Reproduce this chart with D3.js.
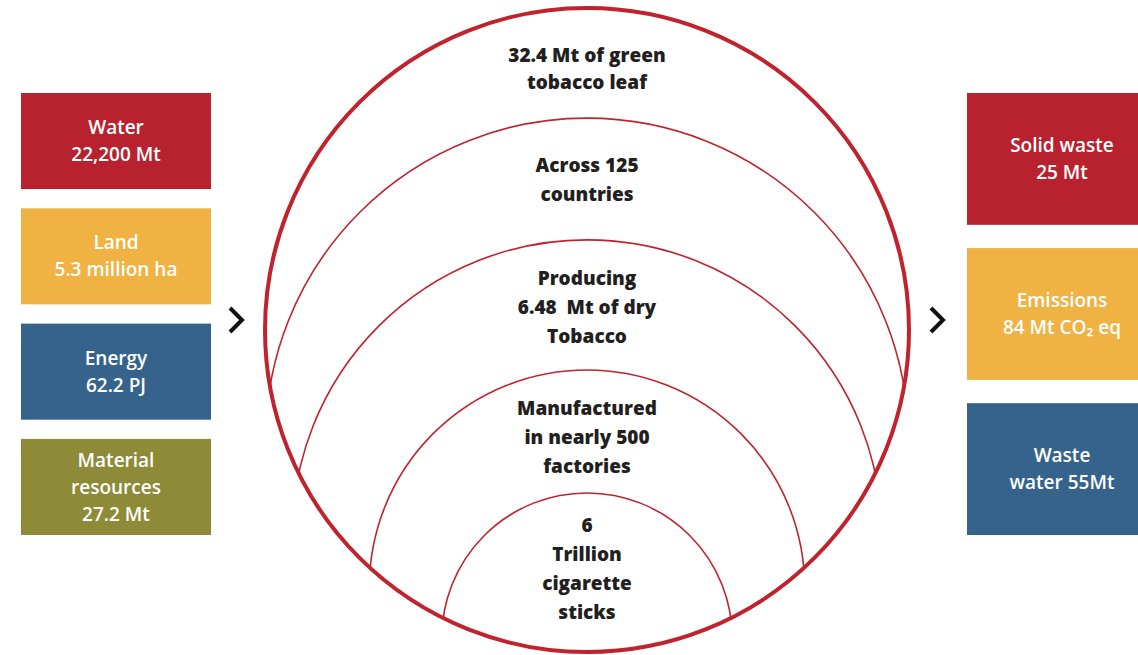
<!DOCTYPE html>
<html>
<head>
  <meta charset="utf-8">
  <title>Tobacco life cycle</title>
  <script src="https://d3js.org/d3.v7.min.js"></script>
  <style>
    body { margin: 0; background: #fff; }
    svg { display: block; }
  </style>
</head>
<body>
<svg width="1138" height="655"></svg>
<script>

  // inputs (left), outputs (right)
  const inputLabels = [["Water", "22,200 Mt"], ["Land", "5.3 million ha"], ["Energy", "62.2 PJ"], ["Material", "resources", "27.2 Mt"]];
  const inputColors = ["#b8222f", "#f0b243", "#35638c", "#8d8b37"];
  const outputLabels = [["Solid waste", "25 Mt"], ["Emissions", "84 Mt CO\u2082 eq"], ["Waste", "water 55Mt"]];
  const outputColors = ["#b8222f", "#f0b243", "#35638c"];

  // stages inside the circle, top to bottom
  const stageLabels = [
    ["32.4 Mt of green", "tobacco leaf"],
    ["Across 125", "countries"],
    ["Producing", "6.48  Mt of dry", "Tobacco"],
    ["Manufactured", "in nearly 500", "factories"],
    ["6", "Trillion", "cigarette", "sticks"]
  ];
  // top of each inner arc (share of the diameter) and its radius (share of the big radius)
  const arcTops = [0.171, 0.360, 0.562, 0.753];
  const arcRadii = [0.998, 0.915, 0.676, 0.451];

  let svg = d3.select("svg"),
      width = +svg.attr("width"),
      height = +svg.attr("height"),
      g = svg.append("g");

  let cx = 587, cy = 330, R = 322;
  let red = "#c1232e";

  let yScale = d3.scaleLinear().domain([0, 1]).range([cy - R, cy + R]);

  let leftBand = d3.scaleBand().domain(d3.range(inputLabels.length)).range([93, 535]).paddingInner(0.167);
  let rightBand = d3.scaleBand().domain(d3.range(outputLabels.length)).range([93, 535]).paddingInner(0.15);

  function drawBoxes(labels, colors, band, x0, w) {
    let box = g.selectAll(null).data(labels).enter().append("g");
    box.append("rect")
        .attr("x", x0)
        .attr("y", (d, i) => band(i))
        .attr("width", w)
        .attr("height", band.bandwidth())
        .attr("fill", (d, i) => colors[i]);
    box.each(function (d, i) {
      let mid = band(i) + band.bandwidth() / 2;
      let lh = 27;
      let t = d3.select(this).append("text")
          .attr("text-anchor", "middle")
          .attr("fill", "#fff")
          .style("font", "600 19px 'Open Sans'");
      d.forEach((line, j) => {
        t.append("tspan")
            .attr("x", x0 + w / 2)
            .attr("y", mid + (j - (d.length - 1) / 2) * lh)
            .attr("dy", "0.35em")
            .text(line);
      });
    });
  }

  drawBoxes(inputLabels, inputColors, leftBand, 21, 190);
  drawBoxes(outputLabels, outputColors, rightBand, 967, 190);

  // chevrons
  let chevron = d3.line();
  [[230, 320], [931, 320]].forEach(p => {
    g.append("path")
        .attr("d", chevron([[p[0], p[1] - 12], [p[0] + 12, p[1]], [p[0], p[1] + 12]]))
        .attr("fill", "none")
        .attr("stroke", "#111")
        .attr("stroke-width", 4);
  });

  // inner arcs clipped by the big circle
  svg.append("clipPath").attr("id", "clip")
      .append("circle").attr("cx", cx).attr("cy", cy).attr("r", R);

  g.append("g").attr("clip-path", "url(#clip)")
      .selectAll("circle")
      .data(arcTops)
      .enter()
      .append("circle")
      .attr("cx", cx)
      .attr("cy", (d, i) => yScale(d) + arcRadii[i] * R)
      .attr("r", (d, i) => arcRadii[i] * R)
      .attr("fill", "none")
      .attr("stroke", red)
      .attr("stroke-width", 1.6);

  g.append("circle")
      .attr("cx", cx)
      .attr("cy", cy)
      .attr("r", R)
      .attr("fill", "none")
      .attr("stroke", red)
      .attr("stroke-width", 4);

  // stage texts
  let bounds = [0].concat(arcTops).concat([1]);
  let nudge = [6, 1, 2, 6, -4];
  stageLabels.forEach((lines, i) => {
    let mid = (yScale(bounds[i]) + yScale(bounds[i + 1])) / 2 + nudge[i];
    let lh = i === 0 ? 27 : 29;
    let t = g.append("text")
        .attr("text-anchor", "middle")
        .attr("fill", "#231f20")
        .style("font", "800 19px 'Open Sans'")
        .style("white-space", "pre");
    lines.forEach((line, j) => {
      t.append("tspan")
          .attr("x", cx)
          .attr("y", mid + (j - (lines.length - 1) / 2) * lh)
          .attr("dy", "0.35em")
          .text(line);
    });
  });

</script>
</body>
</html>
